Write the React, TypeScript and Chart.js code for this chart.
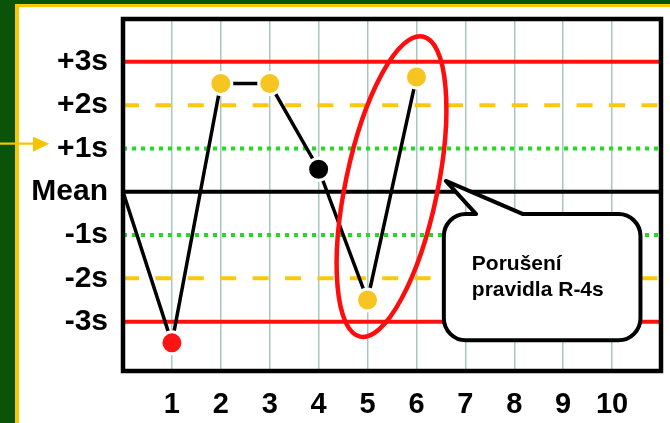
import React, { useEffect, useRef } from 'react';
import { Chart, registerables } from 'chart.js';

Chart.register(...registerables);

// ---- data ----
const RUN_INDEX = [0, 1, 2, 3, 4, 5, 6];
const RUN_VALUES = [0, -3.49, 2.5, 2.5, 0.52, -2.5, 2.65];
const RUN_COLORS = ['rgba(0,0,0,0)', '#ff1414', '#f6c521', '#f6c521', '#000000', '#f6c521', '#f6c521'];
const X_TICKS = [1, 2, 3, 4, 5, 6, 7, 8, 9, 10];
const Y_TICK_VALUES = [3, 2, 1, 0, -1, -2, -3];
const Y_TICK_LABELS = ['+3s', '+2s', '+1s', 'Mean', '-1s', '-2s', '-3s'];
const LIMIT_LEVELS = [3, 2, 1, 0, -1, -2, -3];
const X_RANGE = [0, 11];
const Y_RANGE = [-4.14, 3.99];
const CALLOUT_LINES = ['Porušení', 'pravidla R-4s'];

// ---- annotation geometry (in data units) ----
const ELLIPSE = { x: 5.49, y: 0.12, rx: 0.94, ry: 3.54, angleDeg: 11.8 };
const CALLOUT = { left: 6.56, right: 10.58, top: -0.515, bottom: -3.43, tipX: 6.6, tipY: 0.25, tailX1: 7.22, tailX2: 8.18 };

const FONT = '"Liberation Sans", Arial, sans-serif';

function limitStyle(level: number) {
  const a = Math.abs(level);
  if (a === 3) return { color: '#ff1010', dash: [] as number[], width: 4 };
  if (a === 2) return { color: '#fcc70c', dash: [16, 16.4], width: 4 };
  if (a === 1) return { color: '#22dc22', dash: [4, 5], width: 4 };
  return { color: '#000000', dash: [] as number[], width: 4 };
}

const decorPlugin = {
  id: 'decor',
  beforeDraw(chart: any) {
    const { ctx, width, height } = chart;
    ctx.save();
    ctx.fillStyle = '#0a540a';
    ctx.fillRect(0, 0, width, height);
    ctx.fillStyle = '#f8c800';
    ctx.fillRect(15, 4, width, height);
    ctx.fillStyle = '#ffffff';
    ctx.fillRect(19, 7, width, height);
    // arrow
    ctx.fillStyle = '#f8c400';
    ctx.fillRect(0, 142.5, 34, 2.2);
    ctx.beginPath();
    ctx.moveTo(33, 136.7);
    ctx.lineTo(49.3, 143.8);
    ctx.lineTo(33, 151.7);
    ctx.closePath();
    ctx.fill();
    ctx.restore();
  },
  afterDatasetsDraw(chart: any) {
    const { ctx, chartArea } = chart;
    const xs = chart.scales.x;
    const ys = chart.scales.y;
    ctx.save();
    // plot frame
    ctx.strokeStyle = '#000000';
    ctx.lineWidth = 4.5;
    ctx.strokeRect(chartArea.left, chartArea.top, chartArea.right - chartArea.left, chartArea.bottom - chartArea.top);

    // ellipse
    const cx = xs.getPixelForValue(ELLIPSE.x);
    const cy = ys.getPixelForValue(ELLIPSE.y);
    const rx = Math.abs(xs.getPixelForValue(ELLIPSE.x + ELLIPSE.rx) - cx);
    const ry = Math.abs(ys.getPixelForValue(ELLIPSE.y + ELLIPSE.ry) - cy);
    ctx.beginPath();
    ctx.ellipse(cx, cy, rx, ry, (ELLIPSE.angleDeg * Math.PI) / 180, 0, Math.PI * 2);
    ctx.strokeStyle = '#ff0c0c';
    ctx.lineWidth = 4.5;
    ctx.stroke();

    // callout
    const L = xs.getPixelForValue(CALLOUT.left);
    const R = xs.getPixelForValue(CALLOUT.right);
    const T = ys.getPixelForValue(CALLOUT.top);
    const B = ys.getPixelForValue(CALLOUT.bottom);
    const tx = xs.getPixelForValue(CALLOUT.tipX);
    const ty = ys.getPixelForValue(CALLOUT.tipY);
    const t1 = xs.getPixelForValue(CALLOUT.tailX1);
    const t2 = xs.getPixelForValue(CALLOUT.tailX2);
    const r = 22;
    ctx.beginPath();
    ctx.moveTo(L + r, T);
    ctx.lineTo(t1, T);
    ctx.lineTo(tx, ty);
    ctx.lineTo(t2, T);
    ctx.lineTo(R - r, T);
    ctx.arcTo(R, T, R, T + r, r);
    ctx.lineTo(R, B - r);
    ctx.arcTo(R, B, R - r, B, r);
    ctx.lineTo(L + r, B);
    ctx.arcTo(L, B, L, B - r, r);
    ctx.lineTo(L, T + r);
    ctx.arcTo(L, T, L + r, T, r);
    ctx.closePath();
    ctx.fillStyle = '#ffffff';
    ctx.fill();
    ctx.lineJoin = 'round';
    ctx.strokeStyle = '#000000';
    ctx.lineWidth = 4;
    ctx.stroke();

    ctx.fillStyle = '#000000';
    ctx.font = `bold 21px ${FONT}`;
    ctx.textAlign = 'left';
    ctx.textBaseline = 'alphabetic';
    CALLOUT_LINES.forEach((line, i) => {
      ctx.fillText(line, L + 28, T + 56 + i * 26);
    });
    ctx.restore();
  },
};

export default function App() {
  const canvasRef = useRef<HTMLCanvasElement | null>(null);

  useEffect(() => {
    if (!canvasRef.current) return;

    const runDataset = {
      label: 'run',
      data: RUN_INDEX.map((x, i) => ({ x, y: RUN_VALUES[i] })),
      borderColor: '#000000',
      borderWidth: 3.5,
      pointRadius: RUN_INDEX.map((_, i) => (i === 0 ? 0 : 11)),
      pointBackgroundColor: RUN_COLORS,
      pointBorderColor: RUN_INDEX.map((_, i) => (i === 0 ? 'rgba(0,0,0,0)' : '#ffffff')),
      pointBorderWidth: 3,
      tension: 0,
    };

    const limitDatasets = LIMIT_LEVELS.map((level) => {
      const s = limitStyle(level);
      return {
        label: `limit ${level}`,
        data: [
          { x: X_RANGE[0], y: level },
          { x: X_RANGE[1], y: level },
        ],
        borderColor: s.color,
        borderWidth: s.width,
        borderDash: s.dash,
        borderCapStyle: 'butt',
        pointRadius: 0,
        tension: 0,
      };
    });

    const chart = new Chart(canvasRef.current, {
      type: 'line',
      data: { datasets: [runDataset, ...limitDatasets] as any },
      plugins: [decorPlugin],
      options: {
        animation: false,
        responsive: true,
        maintainAspectRatio: false,
        layout: { autoPadding: false, padding: { left: 0, right: 9, top: 19, bottom: 0 } },
        plugins: {
          legend: { display: false },
          tooltip: { enabled: false },
          title: { display: false },
        },
        scales: {
          x: {
            type: 'linear',
            min: X_RANGE[0],
            max: X_RANGE[1],
            afterBuildTicks: (scale: any) => {
              scale.ticks = X_TICKS.map((v) => ({ value: v }));
            },
            afterFit: (scale: any) => {
              scale.height = 52;
              scale.paddingLeft = 0;
              scale.paddingRight = 0;
              scale.paddingTop = 0;
              scale.paddingBottom = 0;
            },
            grid: { color: '#a7c8be', lineWidth: 1.5, drawTicks: false },
            border: { display: false },
            ticks: {
              autoSkip: false,
              maxRotation: 0,
              padding: 17,
              color: '#000000',
              font: { family: FONT, size: 29, weight: 'bold' },
              callback: (v: any) => String(v),
            },
          },
          y: {
            type: 'linear',
            min: Y_RANGE[0],
            max: Y_RANGE[1],
            afterBuildTicks: (scale: any) => {
              scale.ticks = Y_TICK_VALUES.map((v) => ({ value: v }));
            },
            afterFit: (scale: any) => {
              scale.width = 123;
              scale.paddingLeft = 0;
              scale.paddingRight = 0;
              scale.paddingTop = 0;
              scale.paddingBottom = 0;
            },
            grid: { display: false, drawTicks: false },
            border: { display: false },
            ticks: {
              autoSkip: false,
              padding: 15,
              color: '#000000',
              font: { family: FONT, size: 30, weight: 'bold' },
              callback: (v: any) => {
                const idx = Y_TICK_VALUES.indexOf(Number(v));
                return idx >= 0 ? Y_TICK_LABELS[idx] : '';
              },
            },
          },
        },
      } as any,
    });

    return () => chart.destroy();
  }, []);

  return (
    <div style={{ position: 'absolute', left: 0, top: 0, width: 670, height: 423 }}>
      <canvas ref={canvasRef} />
    </div>
  );
}
